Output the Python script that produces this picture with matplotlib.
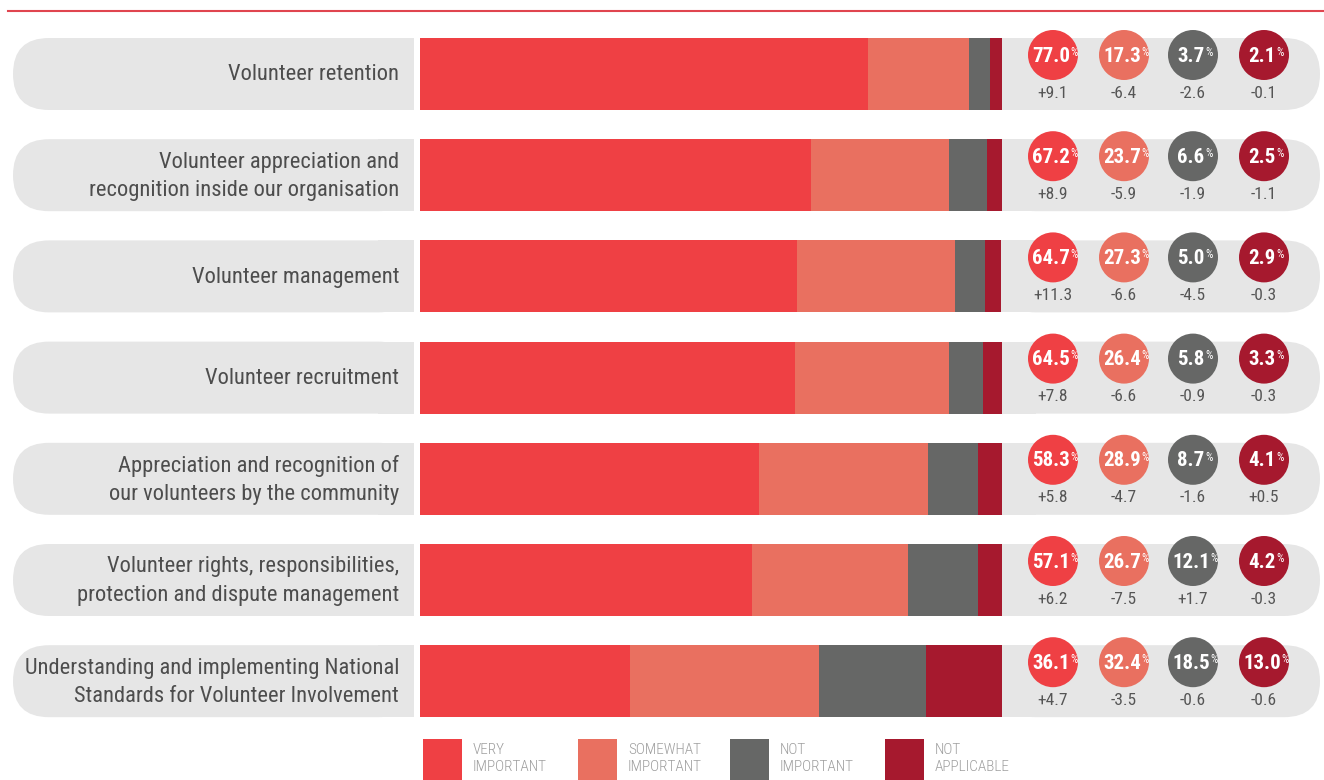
import numpy as np
import matplotlib.pyplot as plt
from matplotlib.patches import FancyBboxPatch, Rectangle, Circle

plt.rcParams['font.family'] = ['Roboto Condensed', 'Barlow Semi Condensed', 'DejaVu Sans']

# datos
labels = ["Volunteer retention",
          "Volunteer appreciation and\nrecognition inside our organisation",
          "Volunteer management",
          "Volunteer recruitment",
          "Appreciation and recognition of\nour volunteers by the community",
          "Volunteer rights, responsibilities,\nprotection and dispute management",
          "Understanding and implementing National\nStandards for Volunteer Involvement"]
very = [77.0, 67.2, 64.7, 64.5, 58.3, 57.1, 36.1]
somewhat = [17.3, 23.7, 27.3, 26.4, 28.9, 26.7, 32.4]
not_imp = [3.7, 6.6, 5.0, 5.8, 8.7, 12.1, 18.5]
not_app = [2.1, 2.5, 2.9, 3.3, 4.1, 4.2, 13.0]
very_d = ['+9.1', '+8.9', '+11.3', '+7.8', '+5.8', '+6.2', '+4.7']
some_d = ['-6.4', '-5.9', '-6.6', '-6.6', '-4.7', '-7.5', '-3.5']
noti_d = ['-2.6', '-1.9', '-4.5', '-0.9', '-1.6', '+1.7', '-0.6']
napp_d = ['-0.1', '-1.1', '-0.3', '-0.3', '+0.5', '-0.3', '-0.6']
legend_names = ["VERY\nIMPORTANT", "SOMEWHAT\nIMPORTANT", "NOT\nIMPORTANT", "NOT\nAPPLICABLE"]

colors = ['#EF4044', '#E97060', '#666766', '#A6192E']
bg = '#E6E6E6'

W, H = 1324, 780
fig = plt.figure(figsize=(W / 100, H / 100), dpi=100)
ax = fig.add_axes([0, 0, 1, 1])
ax.set_xlim(0, W)
ax.set_ylim(H, 0)
ax.axis('off')

# barras en su propio eje (0-100 %)
bx0, bx1 = 420, 1002
axb = fig.add_axes([bx0 / W, 0, (bx1 - bx0) / W, 1])
axb.set_xlim(0, 100)
axb.set_ylim(H, 0)
axb.axis('off')

y0, pitch, bh = 74, 101.2, 72
ys = y0 + np.arange(len(labels)) * pitch

ax.plot([8, W], [11, 11], color='#E0454F', lw=1.5)

series = [very, somewhat, not_imp, not_app]
deltas = [very_d, some_d, noti_d, napp_d]
left = np.zeros(len(labels))
for vals, c in zip(series, colors):
    axb.barh(ys, vals, left=left, height=bh, color=c, linewidth=0)
    left += np.array(vals)

cx = [1053, 1124, 1193, 1264]
r = 36
for i, y in enumerate(ys):
    top = y - bh / 2
    # fondo etiqueta
    ax.add_patch(FancyBboxPatch((13, top), 401, bh, boxstyle="round,pad=0,rounding_size=%d" % r,
                                fc=bg, ec='none'))
    ax.add_patch(Rectangle((414 - r, top), r, bh, fc=bg, ec='none'))
    # fondo derecho
    ax.add_patch(FancyBboxPatch((1000, top), 320, bh, boxstyle="round,pad=0,rounding_size=%d" % r,
                                fc=bg, ec='none'))
    ax.add_patch(Rectangle((1000, top), r, bh, fc=bg, ec='none'))
    ax.text(399, y + 1, labels[i], ha='right', va='center', fontsize=16.2,
            color='#4D4D4D', linespacing=1.45)
    for k in range(4):
        ax.add_patch(Circle((cx[k], y - 19), 25, fc=colors[k], ec='none'))
        t = ax.text(cx[k] - 2, y - 18, "%.1f" % series[k][i], ha='center', va='center',
                    fontsize=15, fontweight='bold', color='white')
        ax.annotate('%', xy=(1, 1), xycoords=t, xytext=(0.3, 0.5), textcoords='offset points',
                    ha='left', va='top', fontsize=8.5, color='white')
        ax.text(cx[k], y + 19, deltas[k][i], ha='center', va='center', fontsize=12.5,
                color='#555555')

# leyenda
lx = [423, 578, 730, 885]
for k in range(4):
    ax.add_patch(Rectangle((lx[k], 739), 39, 41, fc=colors[k], ec='none'))
    ax.text(lx[k] + 50, 743, legend_names[k], ha='left', va='top', fontsize=11,
            fontweight='light', color='#9E9E9E', linespacing=1.3)

fig.savefig('out.png', dpi=100)
